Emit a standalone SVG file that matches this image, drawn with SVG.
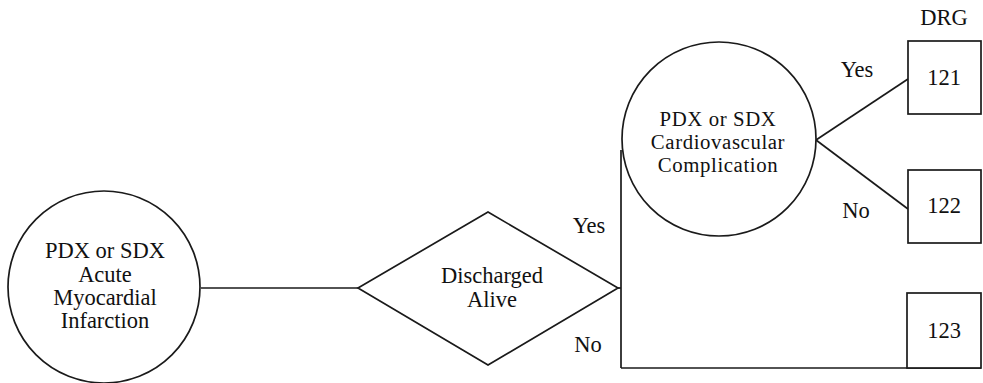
<svg xmlns="http://www.w3.org/2000/svg" width="983" height="383" viewBox="0 0 983 383">
  <style>
    .shape { fill: #ffffff; stroke: #1a1a1a; stroke-width: 1.7; }
    .wire { fill: none; stroke: #1a1a1a; stroke-width: 1.7; }
    text { font-family: "Liberation Serif", "DejaVu Serif", serif; font-size: 22.5px; fill: #111111; text-anchor: middle; }
    .tight { font-size: 20.8px; letter-spacing: 0.6px; }
  </style>
  <rect width="983" height="383" fill="#ffffff"/>

  <!-- connectors -->
  <g id="connectors">
    <line class="wire" x1="201" y1="288" x2="358" y2="288"/>
    <line class="wire" x1="618" y1="288" x2="621" y2="288"/>
    <line class="wire" x1="621" y1="150" x2="621" y2="368"/>
    <line class="wire" x1="621" y1="368" x2="981" y2="368"/>
    <line class="wire" x1="816" y1="140" x2="908" y2="79"/>
    <line class="wire" x1="816" y1="140" x2="908" y2="209"/>
    <text x="589" y="233">Yes</text>
    <text x="588" y="352">No</text>
    <text x="857" y="77">Yes</text>
    <text x="856" y="218">No</text>
  </g>

  <!-- start condition -->
  <g id="node-ami">
    <circle class="shape" cx="104" cy="287" r="96"/>
    <text x="105" y="258">PDX or SDX</text>
    <text x="105" y="282">Acute</text>
    <text x="105" y="305">Myocardial</text>
    <text x="105" y="328">Infarction</text>
  </g>

  <!-- decision -->
  <g id="node-discharged">
    <polygon class="shape" points="358,288 488,212 618,288 488,365"/>
    <text x="492" y="283">Discharged</text>
    <text x="492" y="307">Alive</text>
  </g>

  <!-- secondary condition -->
  <g id="node-cv">
    <circle class="shape" cx="719" cy="139" r="97"/>
    <text class="tight" x="718" y="126">PDX or SDX</text>
    <text class="tight" x="718" y="149">Cardiovascular</text>
    <text class="tight" x="718" y="172">Complication</text>
  </g>

  <!-- outcome groups -->
  <text x="944" y="25">DRG</text>
  <g id="node-121">
    <rect class="shape" x="908" y="41" width="73" height="73"/>
    <text x="944" y="85">121</text>
  </g>
  <g id="node-122">
    <rect class="shape" x="908" y="170" width="73" height="73"/>
    <text x="944" y="213">122</text>
  </g>
  <g id="node-123">
    <rect class="shape" x="907" y="293" width="74" height="75"/>
    <text x="944" y="338">123</text>
  </g>
</svg>
